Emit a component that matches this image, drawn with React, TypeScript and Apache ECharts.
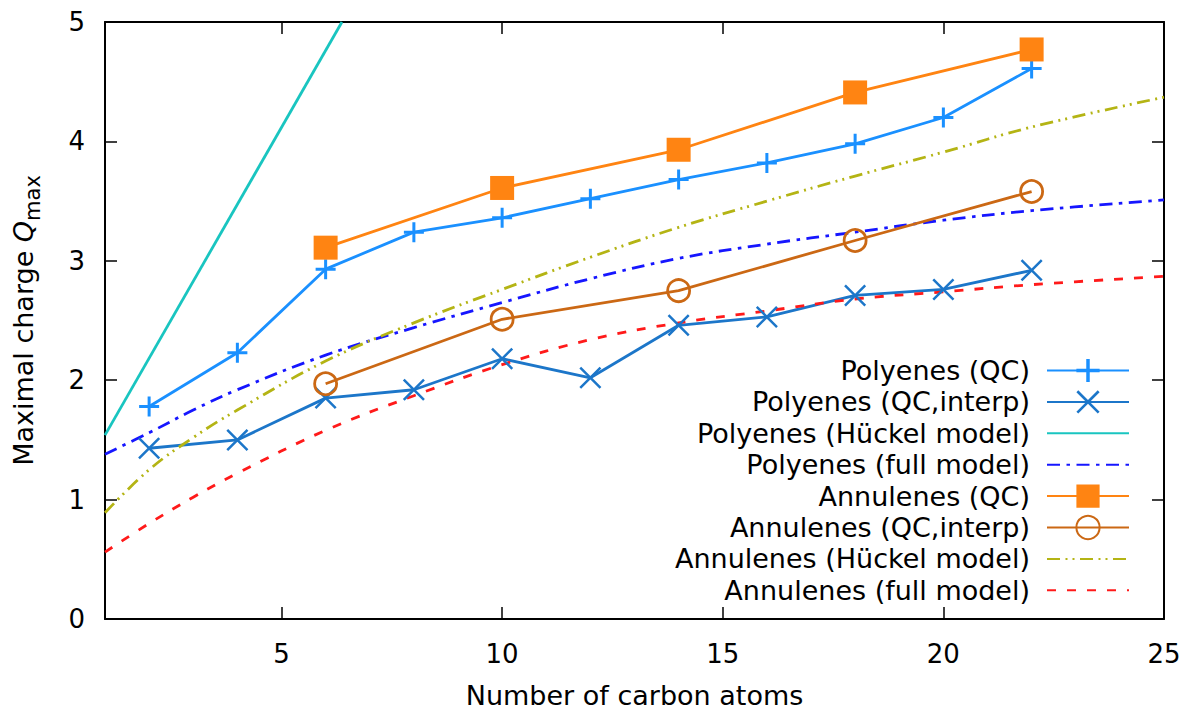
import React, { useEffect, useRef } from 'react';
import * as echarts from 'echarts';

const FONT = 'DejaVu Sans';

const polyN = [2, 4, 6, 8, 10, 12, 14, 16, 18, 20, 22];
const polyQC = [1.78, 2.23, 2.93, 3.24, 3.36, 3.52, 3.68, 3.82, 3.98, 4.2, 4.61];
const polyInterp = [1.43, 1.5, 1.85, 1.92, 2.18, 2.02, 2.46, 2.53, 2.71, 2.76, 2.92];
const annN = [6, 10, 14, 18, 22];
const annQC = [3.11, 3.61, 3.93, 4.41, 4.77];
const annInterp = [1.97, 2.51, 2.75, 3.17, 3.58];
const huckelPolyN = [1, 6.37];
const huckelPolyQ = [1.54, 5.0];
const modelN = [1, 2, 3, 4, 6, 8, 10, 12, 14, 16, 18, 20, 22, 25];
const polyFull = [1.38, 1.56, 1.75, 1.92, 2.21, 2.44, 2.65, 2.85, 3.02, 3.14, 3.24, 3.34, 3.42, 3.51];
const annHuckel = [0.89, 1.25, 1.52, 1.75, 2.16, 2.48, 2.76, 3.03, 3.28, 3.5, 3.71, 3.91, 4.12, 4.37];
const annFull = [0.56, 0.8, 1.02, 1.22, 1.58, 1.87, 2.13, 2.34, 2.48, 2.58, 2.68, 2.74, 2.8, 2.87];
const xTicks = [5, 10, 15, 20, 25];
const names = [
  'Polyenes (QC)',
  'Polyenes (QC,interp)',
  'Polyenes (Hückel model)',
  'Polyenes (full model)',
  'Annulenes (QC)',
  'Annulenes (QC,interp)',
  'Annulenes (Hückel model)',
  'Annulenes (full model)',
];
const noMarker = [false, false, true, true, false, false, true, true];

const PLUS = 'path://M8.5,0H11.5V8.5H20V11.5H11.5V20H8.5V11.5H0V8.5H8.5Z';
const d = 1.6;
const CROSS = `path://M0,${d}L${d},0L10,${10 - d}L${20 - d},0L20,${d}L${10 + d},10L20,${20 - d}L${20 - d},20L10,${10 + d}L${d},20L0,${20 - d}L${10 - d},10Z`;

const pair = (xs: number[], ys: number[]) => xs.map((x, i) => [x, ys[i]]);

export default function App() {
  const ref = useRef<HTMLDivElement>(null);
  useEffect(() => {
    if (!ref.current) return;
    const chart = echarts.init(ref.current, null, { renderer: 'svg' });
    const lw = 2.8;
    const axisLine = { show: true, onZero: false, lineStyle: { color: '#000', width: 2 } };
    const tick = { show: true, inside: true, length: 12, lineStyle: { color: '#000', width: 1.5 } };
    const mk = (i: number, data: number[][], color: string, extra: any) => ({
      name: names[i],
      type: 'line',
      data,
      showAllSymbol: true,
      lineStyle: { color, width: lw },
      itemStyle: { color },
      emphasis: { disabled: true },
      ...extra,
    });
    chart.setOption({
      animation: false,
      backgroundColor: '#fff',
      textStyle: { fontFamily: FONT },
      grid: { left: 105, right: 24, top: 22, bottom: 92, containLabel: false, outerBoundsMode: 'none' },
      legend: {
        orient: 'vertical',
        right: 53,
        top: 351,
        align: 'right',
        itemWidth: 82,
        itemHeight: 29,
        itemGap: 2.4,
        padding: 5,
        textStyle: { fontSize: 27, lineHeight: 29, fontFamily: FONT, color: '#000', padding: [0, 12, 0, 0] },
        data: names.map((n, i) => (noMarker[i] ? { name: n, itemStyle: { opacity: 0 } } : { name: n })),
      },
      xAxis: [
        {
          type: 'value', min: 1, max: 25, position: 'bottom',
          axisLine, axisTick: { ...tick, customValues: xTicks },
          axisLabel: { customValues: xTicks, fontSize: 26, color: '#000', margin: 22, fontFamily: FONT },
          splitLine: { show: false },
          name: 'Number of carbon atoms', nameLocation: 'middle', nameGap: 62,
          nameTextStyle: { fontSize: 27, lineHeight: 28, color: '#000', fontFamily: FONT },
        },
        {
          type: 'value', min: 1, max: 25, position: 'top',
          axisLine, axisTick: { ...tick, customValues: xTicks },
          axisLabel: { show: false }, splitLine: { show: false },
        },
      ],
      yAxis: [
        {
          type: 'value', min: 0, max: 5, interval: 1, position: 'left',
          axisLine, axisTick: tick,
          axisLabel: { fontSize: 26, color: '#000', margin: 20, fontFamily: FONT },
          splitLine: { show: false },
          name: 'Maximal charge {q|Q}{s|max}', nameLocation: 'middle', nameGap: 62, nameRotate: 90,
          nameTextStyle: {
            fontSize: 27, color: '#000', fontFamily: FONT, lineHeight: 40,
            rich: {
              q: { fontSize: 27, fontStyle: 'italic', fontFamily: FONT, color: '#000', lineHeight: 40 },
              s: { fontSize: 21, fontFamily: FONT, color: '#000', lineHeight: 21, verticalAlign: 'bottom' },
            },
          },
        },
        {
          type: 'value', min: 0, max: 5, interval: 1, position: 'right',
          axisLine, axisTick: tick, axisLabel: { show: false }, splitLine: { show: false },
        },
      ],
      series: [
        mk(0, pair(polyN, polyQC), '#1a90ff', { symbol: PLUS, symbolSize: 20 }),
        mk(1, pair(polyN, polyInterp), '#1c76c9', { symbol: CROSS, symbolSize: 22 }),
        mk(2, pair(huckelPolyN, huckelPolyQ), '#19c5c0', { symbol: 'none' }),
        mk(3, pair(modelN, polyFull), '#1616ff', {
          symbol: 'none', smooth: 0.4,
          lineStyle: { color: '#1616ff', width: lw, type: [13, 6.5, 3.5, 6.5] },
        }),
        mk(4, pair(annN, annQC), '#ff8412', { symbol: 'rect', symbolSize: 24 }),
        mk(5, pair(annN, annInterp), '#cb6814', {
          symbol: 'circle', symbolSize: 22,
          itemStyle: { color: 'rgba(255,255,255,0)', borderColor: '#cb6814', borderWidth: 2.8 },
        }),
        mk(6, pair(modelN, annHuckel), '#b4b414', {
          symbol: 'none', smooth: 0.4,
          lineStyle: { color: '#b4b414', width: lw, type: [13, 5.5, 2, 5, 2, 5.5] },
        }),
        mk(7, pair(modelN, annFull), '#ff1a1a', {
          symbol: 'none', smooth: 0.4,
          lineStyle: { color: '#ff1a1a', width: lw, type: [9, 11] },
        }),
      ],
    });
    return () => chart.dispose();
  }, []);
  return (
    <div
      ref={ref}
      style={{ position: 'fixed', left: 0, top: 0, width: 1188, height: 711, background: '#fff' }}
    />
  );
}
